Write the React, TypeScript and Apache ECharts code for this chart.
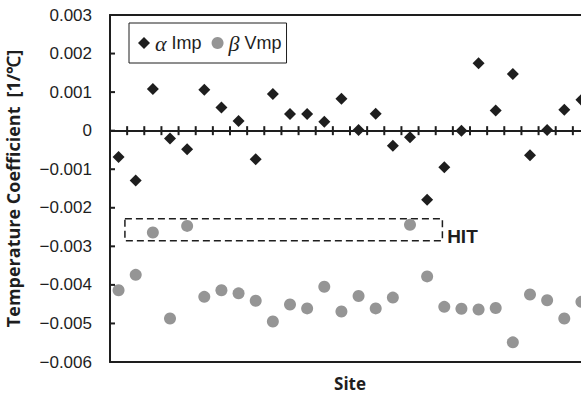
import React, { useEffect, useRef } from "react";
import * as echarts from "echarts";

const siteCount = 28;
const alphaImp = [
  -0.00068, -0.00129, 0.00108, -0.0002, -0.00048, 0.00106, 0.0006, 0.00025, -0.00074, 0.00095,
  0.00043, 0.00043, 0.00023, 0.00083, 0.00002, 0.00044, -0.00039, -0.00017, -0.00179, -0.00095,
  0.0, 0.00175, 0.00052, 0.00147, -0.00064, 0.00002, 0.00054, 0.0008,
];
const betaVmp = [
  -0.00414, -0.00374, -0.00264, -0.00487, -0.00247, -0.00431, -0.00414, -0.00422, -0.00441, -0.00495,
  -0.00451, -0.00461, -0.00405, -0.00469, -0.00429, -0.00461, -0.00433, -0.00244, -0.00378, -0.00457,
  -0.00462, -0.00464, -0.0046, -0.00549, -0.00425, -0.0044, -0.00487, -0.00444,
];
const hitBox = { x0: 0.87, x1: 19.39, yTop: -0.002285, yBottom: -0.002855 };
const yMin = -0.006;
const yMax = 0.003;
const yStep = 0.001;
const yTickValues = [0.003, 0.002, 0.001, 0, -0.001, -0.002, -0.003, -0.004, -0.005, -0.006];

const fmtY = (v: number) => {
  const r = Math.round(v * 1000) / 1000;
  if (r === 0) return "0";
  return r < 0 ? "\u2212" + Math.abs(r).toFixed(3) : r.toFixed(3);
};

export default function App() {
  const ref = useRef<HTMLDivElement>(null);
  useEffect(() => {
    if (!ref.current) return;
    const chart = echarts.init(ref.current, null, { renderer: "svg" });
    const ink = "#1e1e1e";
    const line = () => ({ color: ink, width: 2 });
    const hidden = {
      axisLine: { show: false },
      axisTick: { show: false },
      axisLabel: { show: false },
      splitLine: { show: false },
    };
    const mkX = (extra: any) => ({
      type: "value",
      min: 0,
      max: siteCount,
      interval: 1,
      ...hidden,
      ...extra,
    });
    const mkY = (extra: any) => ({
      type: "value",
      min: yMin,
      max: yMax,
      interval: yStep,
      ...hidden,
      ...extra,
    });
    chart.setOption({
      animation: false,
      grid: { left: 110, right: 10, top: 15, bottom: 34, outerBoundsMode: "none" },
      legend: {
        left: 129,
        top: 23,
        orient: "horizontal",
        borderColor: ink,
        borderWidth: 1,
        padding: [9, 5, 9, 9],
        itemGap: 10,
        itemWidth: 12,
        itemHeight: 12,
        data: ["αImp", "βVmp"],
        formatter: (n: string) =>
          n === "αImp" ? "{g|α}{t| Imp}" : "{g|β}{t| Vmp}",
        textStyle: {
          fontFamily: "Liberation Sans",
          fontSize: 18,
          color: ink,
          rich: {
            g: { fontFamily: "Liberation Serif", fontStyle: "italic", fontSize: 22, color: ink },
            t: { fontFamily: "Liberation Sans", fontSize: 18, color: ink },
          },
        },
      },
      xAxis: [
        mkX({
          position: "bottom",
          axisLine: { show: true, onZero: true, onZeroAxisIndex: 0, lineStyle: line() },
        }),
        mkX({
          position: "bottom",
          name: "Site",
          nameLocation: "middle",
          nameGap: 13,
          nameTextStyle: { fontFamily: "Open Sans", fontWeight: "bold", fontSize: 17, color: ink },
          axisLine: { show: true, onZero: false, lineStyle: line() },
        }),
        mkX({
          position: "top",
          axisLine: { show: true, onZero: false, lineStyle: line() },
        }),
      ],
      yAxis: [
        mkY({
          position: "left",
          name: "Temperature Coefficient\u2002[1/\u2103]",
          nameLocation: "middle",
          nameGap: 88,
          nameTextStyle: { fontFamily: "Open Sans", fontWeight: "bold", fontSize: 18, color: ink },
          axisLine: { show: true, onZero: false, lineStyle: line() },
          axisLabel: {
            show: true,
            margin: 18,
            fontFamily: "Liberation Sans",
            fontSize: 17,
            color: ink,
            formatter: fmtY,
          },
        }),
        mkY({
          position: "right",
          axisLine: { show: true, onZero: false, lineStyle: line() },
        }),
      ],
      series: [
        {
          name: "αImp",
          type: "scatter",
          symbol: "diamond",
          symbolSize: 12,
          itemStyle: { color: ink, opacity: 1 },
          data: alphaImp.map((v, i) => [i + 0.5, v]),
          z: 3,
        },
        {
          name: "βVmp",
          type: "scatter",
          symbol: "circle",
          symbolSize: 12,
          itemStyle: { color: "#959595", opacity: 1 },
          data: betaVmp.map((v, i) => [i + 0.5, v]),
          z: 2,
          markArea: {
            silent: true,
            itemStyle: {
              color: "rgba(0,0,0,0)",
              borderColor: ink,
              borderWidth: 1.5,
              borderType: [7, 4],
            },
            label: {
              show: true,
              position: "right",
              distance: 4,
              offset: [0, 7],
              formatter: "HIT",
              fontFamily: "Liberation Sans",
              fontWeight: "bold",
              fontSize: 19,
              color: ink,
            },
            data: [
              [
                { coord: [hitBox.x0, hitBox.yTop] },
                { coord: [hitBox.x1, hitBox.yBottom] },
              ],
            ],
          },
        },
      ],
    });

    // Tick marks placed through the chart's own scales
    try {
      const els: any[] = [];
      for (let k = 1; k < siteCount; k++) {
        const c = chart.convertToPixel({ gridIndex: 0 }, [k, 0]) as number[];
        els.push({
          type: "rect",
          shape: { x: c[0] - 1, y: c[1] - 4.5, width: 2, height: 9 },
          style: { fill: ink },
          silent: true,
          z: 10,
        });
      }
      yTickValues.forEach((v) => {
        const c = chart.convertToPixel({ gridIndex: 0 }, [0, v]) as number[];
        els.push({
          type: "rect",
          shape: { x: c[0], y: c[1] - 1, width: 5, height: 2 },
          style: { fill: ink },
          silent: true,
          z: 10,
        });
      });
      chart.setOption({ graphic: { elements: els } });
    } catch (e) {
      // ignore
    }

    return () => chart.dispose();
  }, []);
  return (
    <div
      style={{
        position: "absolute",
        left: 0,
        top: 0,
        width: 581,
        height: 396,
        overflow: "hidden",
        background: "#fff",
      }}
    >
      <div ref={ref} style={{ width: 600, height: 396 }} />
    </div>
  );
}
